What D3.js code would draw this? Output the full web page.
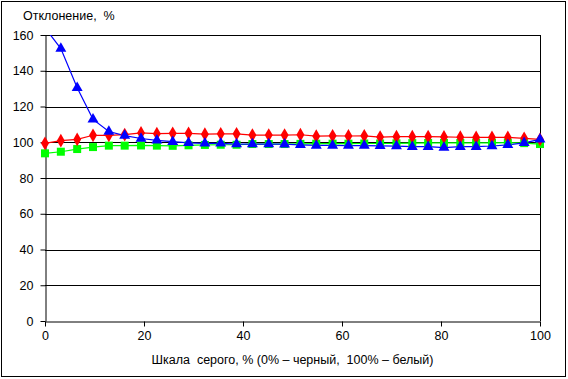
<!DOCTYPE html>
<html>
<head>
<meta charset="utf-8">
<script src="https://cdn.jsdelivr.net/npm/d3@7"></script>
<style>
  body { margin: 0; background: #fff; }
  svg text { font-family: "Liberation Sans", Arial, sans-serif; fill: #000; }
</style>
</head>
<body>
<div id="chart"></div>
<script>
// шкала серого, %
var grayLevels = [0, 3.2, 6.5, 9.7, 12.9, 16.1, 19.4, 22.6, 25.8, 29.0, 32.3, 35.5, 38.7, 41.9, 45.2, 48.4,
  51.6, 54.8, 58.1, 61.3, 64.5, 67.7, 71.0, 74.2, 77.4, 80.6, 83.9, 87.1, 90.3, 93.5, 96.8, 100];

var greenValues = [93.8, 94.7, 96.2, 97.3, 98.1, 98.1, 98.2, 98.1, 98.0, 98.3, 98.5, 98.6, 98.6, 99.0, 99.0, 99.0,
  99.1, 99.2, 99.2, 99.2, 99.3, 99.3, 99.4, 99.5, 99.6, 99.6, 99.6, 99.7, 99.7, 99.8, 99.5, 99.0];

var redValues = [99.4, 100.9, 101.6, 103.9, 103.9, 104.3, 105.2, 104.8, 105.0, 105.0, 104.5, 104.7, 104.7, 104.0, 104.0, 104.0,
  104.2, 103.4, 103.6, 103.5, 103.6, 102.9, 103.1, 103.1, 103.1, 103.0, 102.8, 102.7, 102.7, 102.7, 102.2, 101.6];

var blueValues = [164, 152.4, 130.5, 112.8, 106.0, 103.7, 102.1, 101.1, 100.3, 99.7, 99.4, 99.4, 99.0, 99.0, 99.0, 98.9,
  98.5, 98.2, 98.2, 98.1, 98.1, 98.0, 97.8, 97.5, 97.5, 97.0, 97.5, 97.5, 97.9, 98.5, 99.7, 101.6];

var yTicks = [0, 20, 40, 60, 80, 100, 120, 140, 160];
var xTicks = [0, 20, 40, 60, 80, 100];

var yTitle = "Отклонение,  %";
var xTitle = "Шкала  серого, % (0% – черный,  100% – белый)";

var W = 568, H = 379;
var margin = { top: 35, right: 28, bottom: 58, left: 45 };
var width = W - margin.left - margin.right,
    height = H - margin.top - margin.bottom;

var svg = d3.select('#chart').append('svg')
  .attr('width', W)
  .attr('height', H);

// рамка диаграммы
svg.append('rect')
  .attr('x', 1.5).attr('y', 1.5)
  .attr('width', W - 4).attr('height', H - 4)
  .attr('fill', 'none')
  .attr('stroke', '#000')
  .attr('stroke-width', 1);

var xScale = d3.scaleLinear().domain([0, 100]).range([0, width]);
var yScale = d3.scaleLinear().domain([0, 160]).range([height, 0]);

var g = svg.append('g')
  .attr('transform', 'translate(' + margin.left + ',' + margin.top + ')');

g.append('clipPath').attr('id', 'plotclip')
  .append('rect')
  .attr('x', -6).attr('y', 0)
  .attr('width', width + 12).attr('height', height);

// сетка
g.append('g')
  .selectAll('line').data(yTicks.slice(1))
  .enter().append('line')
  .attr('x1', 0).attr('x2', width)
  .attr('y1', function(d) { return Math.round(yScale(d)) + 0.5; })
  .attr('y2', function(d) { return Math.round(yScale(d)) + 0.5; })
  .attr('stroke', '#000');

g.append('line')
  .attr('x1', width + 0.5).attr('x2', width + 0.5)
  .attr('y1', 0).attr('y2', height)
  .attr('stroke', '#000');

// оси
var yAxis = g.append('g')
  .attr('transform', 'translate(0.5,0)')
  .call(d3.axisLeft(yScale).tickValues(yTicks).tickSize(5).tickPadding(7).tickSizeOuter(0));

var xAxis = g.append('g')
  .attr('transform', 'translate(0,' + (Math.round(height) + 0.5) + ')')
  .call(d3.axisBottom(xScale).tickValues(xTicks).tickSize(5).tickPadding(5).tickSizeOuter(0));

[xAxis, yAxis].forEach(function(a) {
  a.selectAll('path, line').attr('stroke', '#000').attr('stroke-width', 1);
  a.selectAll('text').style('font-size', '12.5px').attr('fill', '#000');
});

var plot = g.append('g').attr('clip-path', 'url(#plotclip)');

var series = [
  { name: 'green', values: greenValues, color: '#00ff00', symbol: d3.symbolSquare, size: 64 },
  { name: 'red', values: redValues, color: '#ff0000', symbol: d3.symbolDiamond, size: 55 },
  { name: 'blue', values: blueValues, color: '#0000ff', symbol: d3.symbolTriangle, size: 52 }
];

var line = d3.line()
  .x(function(d) { return xScale(d[0]); })
  .y(function(d) { return yScale(d[1]); });

series.forEach(function(s) {
  var pts = grayLevels.map(function(x, i) { return [x, s.values[i]]; });
  plot.append('path')
    .datum(pts)
    .attr('d', line)
    .attr('fill', 'none')
    .attr('stroke', s.color)
    .attr('stroke-width', 1.2);
});

series.forEach(function(s) {
  var pts = grayLevels.map(function(x, i) { return [x, s.values[i]]; });
  plot.append('g')
    .selectAll('path').data(pts)
    .enter().append('path')
    .attr('d', d3.symbol().type(s.symbol).size(s.size))
    .attr('transform', function(d) {
      return 'translate(' + xScale(d[0]) + ',' + yScale(d[1]) + ')';
    })
    .attr('fill', s.color);
});

// подписи осей
svg.append('text')
  .attr('x', 23).attr('y', 20)
  .style('font-size', '12.5px')
  .style('white-space', 'pre')
  .text(yTitle);

svg.append('text')
  .attr('x', margin.left + width / 2).attr('y', 364)
  .attr('text-anchor', 'middle')
  .style('font-size', '12.5px')
  .style('white-space', 'pre')
  .text(xTitle);
</script>
</body>
</html>
